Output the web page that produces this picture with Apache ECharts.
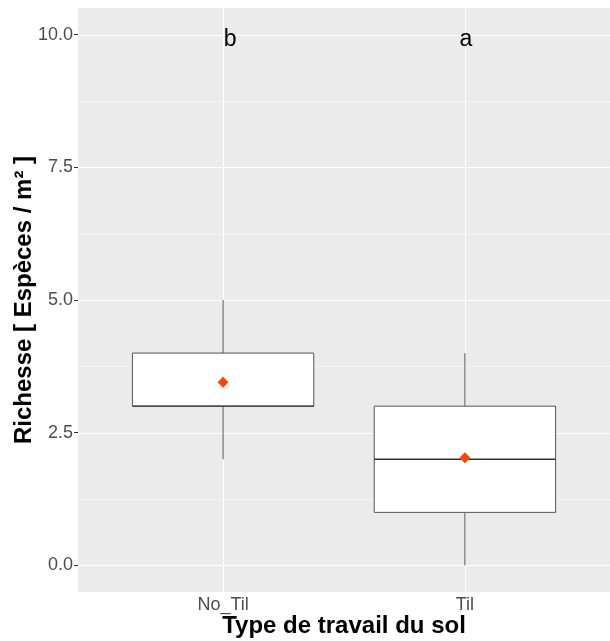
<!DOCTYPE html>
<html><head><meta charset="utf-8">
<script src="https://cdn.jsdelivr.net/npm/echarts@6/dist/echarts.min.js"></script>
<style>html,body{margin:0;padding:0;background:#fff}#c{width:610px;height:641px}</style>
</head><body><div id="c"></div>
<script>
const categories = ['No_Til', 'Til'];
const lowerWhisker = [2, 0];
const q1 = [3, 1];
const median = [3, 2];
const q3 = [4, 3];
const upperWhisker = [5, 4];
const means = [3.45, 2.03];
const letters = ['b', 'a'];
const letterY = [10, 10];
const yTicks = [0, 2.5, 5, 7.5, 10];
const yMinor = [1.25, 3.75, 6.25, 8.75];
const xTicks = [1, 2];

const FONT = 'Liberation Sans, Arial, sans-serif';
const letterNudgePx = [7, 1];
const chart = echarts.init(document.getElementById('c'), null, {renderer: 'canvas'});

const gridData = [];
yTicks.forEach(v => gridData.push([0, v, 1.1]));
yMinor.forEach(v => gridData.push([0, v, 0.5]));
xTicks.forEach(v => gridData.push([1, v, 1.1]));

const boxData = categories.map((c, i) => [i + 1, lowerWhisker[i], q1[i], median[i], q3[i], upperWhisker[i]]);
const halfW = 0.375;

chart.setOption({
  animation: false,
  grid: {left: 78, right: 0, top: 8, bottom: 49, show: true, backgroundColor: '#EBEBEB', borderWidth: 0, containLabel: false, outerBoundsMode: 'none'},
  xAxis: {
    type: 'value', min: 0.4, max: 2.6,
    name: 'Type de travail du sol', nameLocation: 'middle', nameGap: 22, nameMoveOverlap: false,
    nameTextStyle: {fontFamily: FONT, fontSize: 24, fontWeight: 'bold', color: '#000'},
    axisLine: {show: false},
    axisTick: {show: true, customValues: xTicks, length: 4, lineStyle: {color: '#333333'}},
    axisLabel: {customValues: xTicks, formatter: v => categories[Math.round(v) - 1], fontFamily: FONT, fontSize: 18, color: '#4D4D4D', margin: 4},
    splitLine: {show: false}
  },
  yAxis: {
    type: 'value', min: -0.5, max: 10.5,
    name: 'Richesse [ Espèces / m² ]', nameLocation: 'middle', nameGap: 42, nameRotate: 90, nameMoveOverlap: false,
    nameTextStyle: {fontFamily: FONT, fontSize: 24, fontWeight: 'bold', color: '#000'},
    axisLine: {show: false},
    axisTick: {show: true, customValues: yTicks, length: 4, lineStyle: {color: '#333333'}},
    axisLabel: {customValues: yTicks, formatter: v => v.toFixed(1), fontFamily: FONT, fontSize: 18, color: '#4D4D4D', margin: 5},
    splitLine: {show: false}
  },
  series: [
    {
      type: 'custom', z: 1, silent: true,
      data: gridData,
      encode: {x: -1, y: -1},
      renderItem: function (params, api) {
        const cs = params.coordSys;
        const kind = api.value(0), v = api.value(1), w = api.value(2);
        if (kind === 0) {
          const y = Math.round(api.coord([1, v])[1]) + 0.5;
          return {type: 'line', shape: {x1: cs.x, y1: y, x2: cs.x + cs.width, y2: y}, style: {stroke: '#FFFFFF', lineWidth: w}};
        } else {
          const x = Math.round(api.coord([v, 0])[0]) + 0.5;
          return {type: 'line', shape: {x1: x, y1: cs.y, x2: x, y2: cs.y + cs.height}, style: {stroke: '#FFFFFF', lineWidth: w}};
        }
      }
    },
    {
      type: 'custom', z: 3, silent: true,
      data: boxData,
      encode: {x: 0, y: [1, 5]},
      renderItem: function (params, api) {
        const x = api.value(0);
        const pLo = api.coord([x, api.value(1)]);
        const pQ1 = api.coord([x, api.value(2)]);
        const pMed = api.coord([x, api.value(3)]);
        const pQ3 = api.coord([x, api.value(4)]);
        const pHi = api.coord([x, api.value(5)]);
        const xl = api.coord([x - halfW, 0])[0];
        const xr = api.coord([x + halfW, 0])[0];
        const st = {stroke: '#555555', lineWidth: 1, fill: null};
        return {type: 'group', children: [
          {type: 'line', shape: {x1: pHi[0], y1: pHi[1], x2: pQ3[0], y2: pQ3[1]}, style: st},
          {type: 'line', shape: {x1: pLo[0], y1: pLo[1], x2: pQ1[0], y2: pQ1[1]}, style: st},
          {type: 'rect', shape: {x: xl, y: pQ3[1], width: xr - xl, height: pQ1[1] - pQ3[1]}, style: {fill: '#FFFFFF', stroke: '#555555', lineWidth: 1}},
          {type: 'line', shape: {x1: xl, y1: pMed[1], x2: xr, y2: pMed[1]}, style: {stroke: '#333333', lineWidth: 1.3}}
        ]};
      }
    },
    {
      type: 'scatter', z: 4, silent: true,
      symbol: 'diamond', symbolSize: 11,
      itemStyle: {color: '#FF4500', opacity: 1},
      data: means.map((m, i) => [i + 1, m])
    },
    {
      type: 'custom', z: 5, silent: true,
      data: letters.map((l, i) => [i + 1, letterY[i]]),
      encode: {x: 0, y: 1},
      renderItem: function (params, api) {
        const p = api.coord([api.value(0), api.value(1)]);
        return {type: 'text', style: {x: p[0] + letterNudgePx[params.dataIndex], y: p[1] + 5, text: letters[params.dataIndex], fontFamily: FONT, fontSize: 23, fill: '#000', align: 'center', verticalAlign: 'middle'}};
      }
    }
  ]
});
</script></body></html>
